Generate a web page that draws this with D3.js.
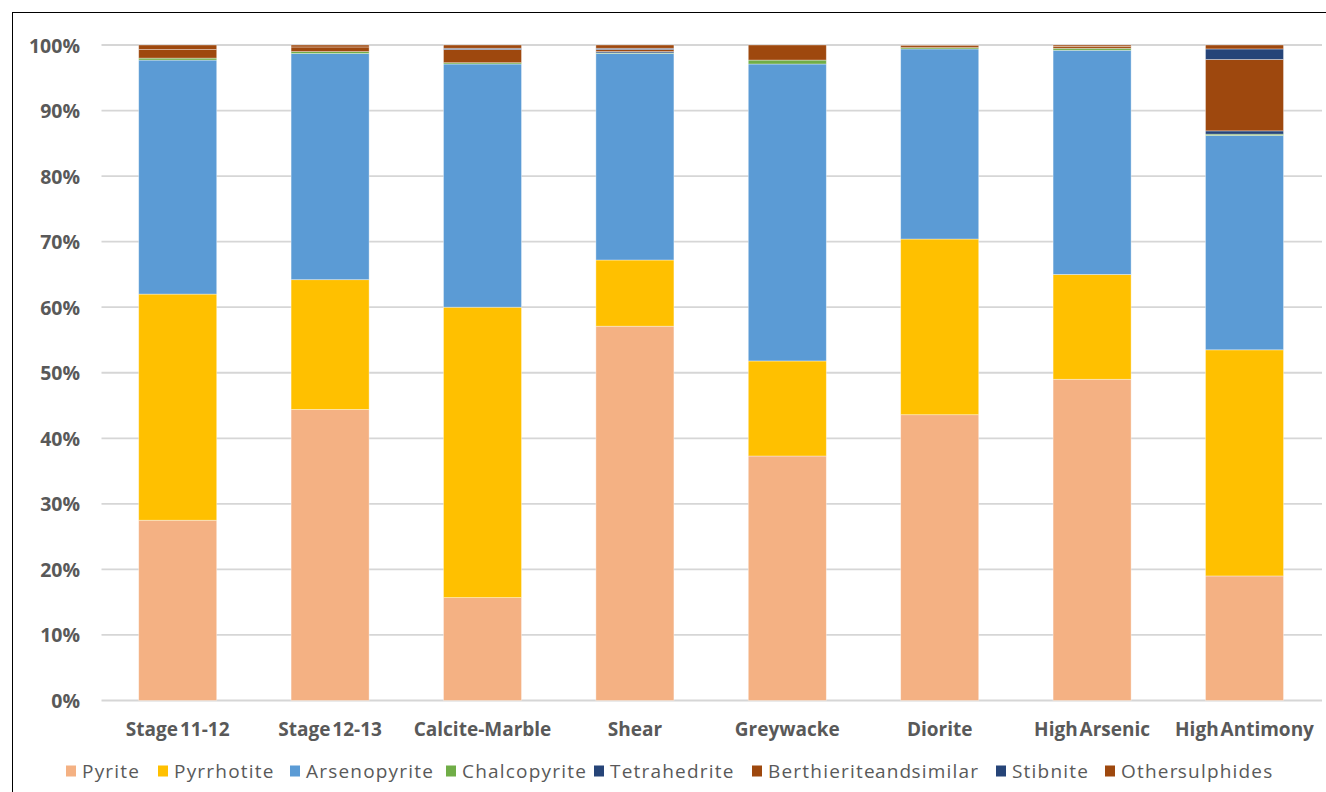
<!DOCTYPE html>
<html>
<head>
<meta charset="utf-8">
<script src="https://cdn.jsdelivr.net/npm/d3@7/dist/d3.min.js"></script>
<style>
  html, body { margin: 0; padding: 0; background: #fff; }
  svg { display: block; }
</style>
</head>
<body>
<svg id="chart" width="1326" height="792"></svg>
<script>
// Sulphide mineral proportions (%) per ore group
const categories = ["Stage 11-12", "Stage 12-13", "Calcite-Marble", "Shear", "Greywacke", "Diorite", "High Arsenic", "High Antimony"];
const minerals = ["Pyrite", "Pyrrhotite", "Arsenopyrite", "Chalcopyrite", "Tetrahedrite", "Berthierite and similar", "Stibnite", "Other sulphides"];

const pyrite       = [27.5, 44.4, 15.7, 57.1, 37.3, 43.6, 49.0, 19.0];
const pyrrhotite   = [34.5, 19.8, 44.3, 10.1, 14.5, 26.8, 16.0, 34.5];
const arsenopyrite = [35.7, 34.5, 37.1, 31.5, 45.3, 29.0, 34.2, 32.7];
const chalcopyrite = [0.3, 0.3, 0.2, 0.1, 0.6, 0.2, 0.3, 0.2];
const tetrahedrite = [0.0, 0.0, 0.0, 0.2, 0.0, 0.0, 0.0, 0.5];
const berthierite  = [1.3, 0.7, 2.0, 0.3, 2.3, 0.3, 0.3, 10.9];
const stibnite     = [0.0, 0.0, 0.2, 0.2, 0.0, 0.0, 0.0, 1.6];
const otherSulph   = [0.7, 0.3, 0.5, 0.5, 0.0, 0.1, 0.2, 0.6];

const yTicks = [0, 0.1, 0.2, 0.3, 0.4, 0.5, 0.6, 0.7, 0.8, 0.9, 1.0];

const colors = ["#F4B183", "#FFC000", "#5B9BD5", "#70AD47", "#264478", "#9E480E", "#264478", "#9E480E"];

const seriesValues = [pyrite, pyrrhotite, arsenopyrite, chalcopyrite, tetrahedrite, berthierite, stibnite, otherSulph];
const rows = categories.map((c, i) => {
  const r = { category: c };
  minerals.forEach((m, k) => { r[m] = seriesValues[k][i]; });
  return r;
});

const svg = d3.select("#chart");

// outer chart frame
svg.append("rect")
  .attr("x", 12.5).attr("y", 12.5)
  .attr("width", 1340).attr("height", 800)
  .attr("fill", "none").attr("stroke", "#000").attr("stroke-width", 1);

const x = d3.scaleBand()
  .domain(categories)
  .range([101.5, 1320.7])
  .paddingInner(0.488)
  .paddingOuter(0.244);

const y = d3.scaleLinear().domain([0, 1]).range([700.5, 45]);

// horizontal gridlines
svg.append("g")
  .selectAll("line")
  .data(yTicks)
  .join("line")
  .attr("x1", 101.5).attr("x2", 1322)
  .attr("y1", d => y(d)).attr("y2", d => y(d))
  .attr("stroke", "#d6d6d6").attr("stroke-width", 1.8);

// y axis labels
const yAxis = d3.axisLeft(y).tickValues(yTicks).tickFormat(d3.format(".0%")).tickSize(0).tickPadding(0);
const gy = svg.append("g").attr("transform", "translate(80,0)").call(yAxis);
gy.select(".domain").remove();
gy.selectAll("text")
  .attr("font-family", "'Open Sans', sans-serif")
  .attr("font-weight", "bold")
  .attr("font-size", 19.5)
  .attr("fill", "#595959")
  .attr("dy", "0.36em");

// stacked bars normalised to 100%
const stack = d3.stack().keys(minerals).offset(d3.stackOffsetExpand);
const layers = stack(rows);

svg.append("g")
  .selectAll("g")
  .data(layers)
  .join("g")
  .attr("fill", (d, i) => colors[i])
  .selectAll("rect")
  .data(d => d)
  .join("rect")
  .attr("x", d => x(d.data.category))
  .attr("width", x.bandwidth())
  .attr("y", d => y(d[1]))
  .attr("height", d => Math.max(0, y(d[0]) - y(d[1])))
  .attr("stroke", d => (d[1] - d[0]) > 0 ? "rgba(255,255,255,0.45)" : "none")
  .attr("stroke-width", 0.8);

// category axis
const xAxis = d3.axisBottom(x).tickSize(0).tickPadding(0);
const gx = svg.append("g").attr("transform", "translate(0,736)").call(xAxis);
gx.select(".domain").remove();
gx.selectAll("text")
  .attr("font-family", "'Open Sans', sans-serif")
  .attr("font-weight", "bold")
  .attr("font-size", 19)
  .attr("fill", "#595959")
  .attr("dy", 0)
  .attr("word-spacing", "-3px");

// legend
const legendX = [66, 158, 290, 446, 594, 752, 996, 1105];
const legend = svg.append("g");
const items = legend.selectAll("g")
  .data(minerals)
  .join("g")
  .attr("transform", (d, i) => `translate(${legendX[i]},771)`);
items.append("rect")
  .attr("x", 0).attr("y", -5.5)
  .attr("width", 10).attr("height", 11)
  .attr("fill", (d, i) => colors[i]);
items.append("text")
  .attr("x", 16).attr("y", 0)
  .attr("dy", "0.35em")
  .attr("font-family", "'Open Sans', sans-serif")
  .attr("font-size", 19)
  .attr("letter-spacing", "1.2px")
  .attr("fill", "#595959")
  .attr("word-spacing", "-7px")
  .text(d => d);
</script>
</body>
</html>
